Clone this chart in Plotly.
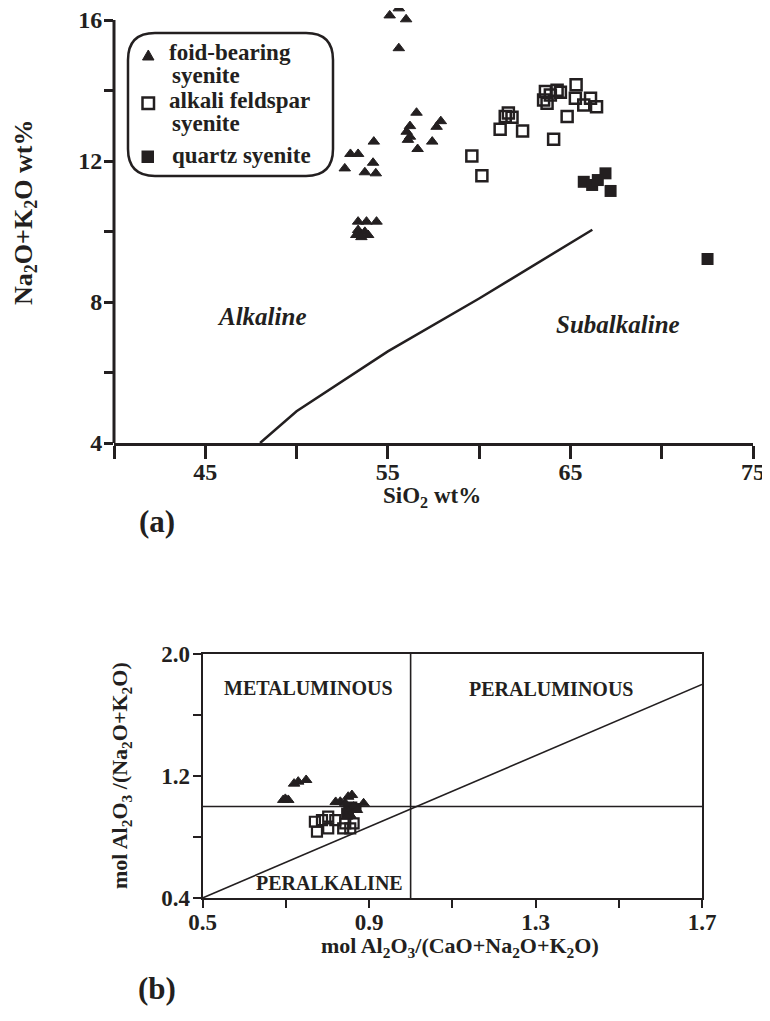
import plotly.graph_objects as go

# ---------------- DATA ----------------
# (a) TAS diagram: SiO2 wt% vs Na2O+K2O wt%
foid_sio2 = [55.6, 55.1, 56.0, 55.6,
             56.57, 56.21, 56.03, 56.21, 56.1, 56.63, 57.9, 57.67, 57.43,
             54.23, 52.95, 53.37, 54.19, 52.64, 53.74, 54.34,
             53.37, 53.83, 54.38, 53.37, 53.74, 53.46, 53.92, 53.27, 53.55]
foid_alk = [16.33, 16.13, 16.02, 15.2,
            13.37, 12.99, 12.83, 12.69, 12.6, 12.34, 13.13, 12.97, 12.55,
            12.55, 12.2, 12.2, 11.95, 11.79, 11.68, 11.65,
            10.28, 10.28, 10.28, 10.04, 9.99, 9.9, 9.9, 9.9, 9.84]

afs_sio2 = [65.31, 63.63, 64.27, 64.45, 63.53, 63.72, 65.27, 66.1, 65.73, 66.43,
            64.82, 64.08, 61.43, 61.8, 61.15, 62.38, 59.6, 60.15, 61.6, 63.9]
afs_alk = [14.16, 13.97, 14.01, 13.95, 13.73, 13.64, 13.78, 13.78, 13.59, 13.54,
           13.26, 12.62, 13.26, 13.24, 12.9, 12.85, 12.14, 11.58, 13.36, 13.87]

qs_sio2 = [66.92, 65.73, 66.19, 67.2, 66.5, 72.51]
qs_alk = [11.65, 11.41, 11.32, 11.15, 11.46, 9.22]

# Alkaline / subalkaline dividing line
div_sio2 = [48.0, 50.0, 55.0, 60.0, 66.2]
div_alk = [4.0, 4.9, 6.6, 8.1, 10.05]

# (b) A/CNK vs A/NK
foid_acnk = [0.730, 0.749, 0.720, 0.694, 0.706, 0.699, 0.831, 0.850, 0.859, 0.843,
             0.863, 0.887, 0.871, 0.850, 0.855, 0.847, 0.820]
foid_ank = [1.163, 1.174, 1.150, 1.043, 1.043, 1.050, 1.031, 1.064, 1.075, 1.021,
            0.999, 1.021, 0.977, 0.966, 0.944, 0.933, 1.030]

afs_acnk = [0.802, 0.787, 0.775, 0.802, 0.843, 0.863, 0.838, 0.819, 0.770, 0.855]
afs_ank = [0.933, 0.911, 0.835, 0.857, 0.890, 0.890, 0.857, 0.911, 0.900, 0.857]

qs_acnk = [0.850, 0.860, 0.845, 0.870]
qs_ank = [0.980, 1.000, 0.960, 0.990]

# Shand diagram boundaries
vline_x = [1.0, 1.0]
vline_y = [0.4, 2.0]
hline_x = [0.5, 1.7]
hline_y = [1.0, 1.0]
diag_x = [0.5, 1.7]
diag_y = [0.4, 1.8]

legend_labels = [["foid-bearing", "syenite"], ["alkali feldspar", "syenite"], ["quartz syenite"]]

# ---------------- STYLE ----------------
# the page body has an 8 px default margin, so the figure starts at (8, 8)
OFF = 8
W, H = 770 - OFF, 1021 - OFF
INK = "#231f20"
FONT = "Liberation Serif"


def PX(x):
    return (x - OFF) / W


def PY(y):
    return 1 - (y - OFF) / H


fig = go.Figure()

tri = dict(symbol="triangle-up", size=10, color=INK, line=dict(color=INK, width=1))
osq = dict(symbol="square", size=11, color="rgba(0,0,0,0)", line=dict(color=INK, width=2.5))
fsq = dict(symbol="square", size=12, color=INK, line=dict(color=INK, width=0))

# top chart
fig.add_trace(go.Scatter(x=div_sio2, y=div_alk, mode="lines", line=dict(color=INK, width=2.5),
                         xaxis="x", yaxis="y", showlegend=False, hoverinfo="skip"))
fig.add_trace(go.Scatter(x=foid_sio2, y=foid_alk, mode="markers", marker=tri, cliponaxis=False,
                         xaxis="x", yaxis="y", showlegend=False))
fig.add_trace(go.Scatter(x=afs_sio2, y=afs_alk, mode="markers", marker=osq, cliponaxis=False,
                         xaxis="x", yaxis="y", showlegend=False))
fig.add_trace(go.Scatter(x=qs_sio2, y=qs_alk, mode="markers", marker=fsq, cliponaxis=False,
                         xaxis="x", yaxis="y", showlegend=False))

# bottom chart
for xs, ys in [(vline_x, vline_y), (hline_x, hline_y), (diag_x, diag_y)]:
    fig.add_trace(go.Scatter(x=xs, y=ys, mode="lines", line=dict(color=INK, width=1.6),
                             xaxis="x2", yaxis="y2", showlegend=False, hoverinfo="skip"))
fig.add_trace(go.Scatter(x=afs_acnk, y=afs_ank, mode="markers",
                         marker=dict(osq, size=10, line=dict(color=INK, width=2.2)),
                         xaxis="x2", yaxis="y2", showlegend=False))
fig.add_trace(go.Scatter(x=qs_acnk, y=qs_ank, mode="markers", marker=dict(fsq, size=10),
                         xaxis="x2", yaxis="y2", showlegend=False))
fig.add_trace(go.Scatter(x=foid_acnk, y=foid_ank, mode="markers", marker=tri,
                         xaxis="x2", yaxis="y2", showlegend=False))

tickfont = dict(family=FONT, size=24, color=INK)
bold = dict(tickprefix="<b>", ticksuffix="</b>", ticklabeloverflow="allow")

# top y-axis: range reaches the top of the figure so the highest points are shown;
# the visible axis line stops at 16 (drawn as a shape below)
px_per_unit = (443 - 20) / 12.0
TOP_Y0 = 4
TOP_Y1 = 4 + (443 - OFF) / px_per_unit

fig.update_layout(
    width=W, height=H, autosize=False,
    margin=dict(l=0, r=0, t=0, b=0, autoexpand=False),
    paper_bgcolor="white", plot_bgcolor="white",
    font=dict(family=FONT, color=INK),
    xaxis=dict(domain=[PX(114), PX(753)], range=[40, 75], anchor="y", automargin=False,
               showline=True, linewidth=3, linecolor=INK, showgrid=False, zeroline=False,
               ticks="outside", ticklen=13, tickwidth=3, tickcolor=INK, ticklabelstandoff=-8,
               tick0=45, dtick=10, tickfont=tickfont, **bold,
               minor=dict(tick0=40, dtick=5, ticks="outside", ticklen=13, tickwidth=3, tickcolor=INK)),
    yaxis=dict(domain=[PY(443), 1.0], range=[TOP_Y0, TOP_Y1], anchor="x", automargin=False,
               showline=False, showgrid=False, zeroline=False,
               ticks="outside", ticklen=9, tickwidth=3, tickcolor=INK, ticklabelstandoff=-3,
               tick0=4, dtick=4, tickfont=tickfont, **bold,
               minor=dict(tick0=4, dtick=2, ticks="outside", ticklen=9, tickwidth=3, tickcolor=INK)),
    xaxis2=dict(domain=[PX(202.5), PX(702)], range=[0.5, 1.7], anchor="y2", automargin=False,
                showline=True, mirror=True, linewidth=2, linecolor=INK, showgrid=False, zeroline=False,
                ticks="outside", ticklen=8, tickwidth=2, tickcolor=INK, ticklabelstandoff=-6,
                tick0=0.5, dtick=0.4, tickformat=".1f", tickfont=dict(tickfont, size=23), **bold,
                minor=dict(tick0=0.5, dtick=0.2, ticks="outside", ticklen=8, tickwidth=2, tickcolor=INK)),
    yaxis2=dict(domain=[PY(898), PY(654)], range=[0.4, 2.0], anchor="x2", automargin=False,
                showline=True, mirror=True, linewidth=2, linecolor=INK, showgrid=False, zeroline=False,
                ticks="outside", ticklen=8, tickwidth=2, tickcolor=INK, ticklabelstandoff=-2,
                tick0=0.4, dtick=0.8, tickformat=".1f", tickfont=dict(tickfont, size=23), **bold,
                minor=dict(tick0=0.4, dtick=0.4, ticks="outside", ticklen=8, tickwidth=2, tickcolor=INK)),
)

ann = []


def text(x, y, s, size, xref="paper", yref="paper", angle=0, xanchor="center"):
    ann.append(dict(x=x, y=y, xref=xref, yref=yref, text=s, showarrow=False, textangle=angle,
                    xanchor=xanchor, yanchor="middle",
                    font=dict(family=FONT, size=size, color=INK)))


# axis titles
text(PX(25), PY(213), "<b>Na<sub>2</sub>O+K<sub>2</sub>O wt%</b>", 26, angle=-90)
text(PX(432), PY(497), "<b>SiO<sub>2</sub> wt%</b>", 23)
text(PX(121), PY(776), "<b>mol Al<sub>2</sub>O<sub>3</sub> /(Na<sub>2</sub>O+K<sub>2</sub>O)</b>", 22, angle=-90)
text(PX(460), PY(947), "<b>mol Al<sub>2</sub>O<sub>3</sub>/(CaO+Na<sub>2</sub>O+K<sub>2</sub>O)</b>", 22)

# panel letters
text(PX(157), PY(521), "<b>(a)</b>", 31)
text(PX(157), PY(988), "<b>(b)</b>", 31)

# field labels
text(48.1, 7.6, "<b><i>Alkaline</i></b>", 25, xref="x", yref="y")
text(67.6, 7.35, "<b><i>Subalkaline</i></b>", 25, xref="x", yref="y")
text(0.754, 1.777, "<b>METALUMINOUS</b>", 20, xref="x2", yref="y2")
text(1.338, 1.77, "<b>PERALUMINOUS</b>", 20, xref="x2", yref="y2")
text(0.804, 0.498, "<b>PERALKALINE</b>", 20, xref="x2", yref="y2")

# legend text
leg_rows = [(167, 53, legend_labels[0][0]), (170, 75, legend_labels[0][1]),
            (167, 101, legend_labels[1][0]), (170, 123, legend_labels[1][1]),
            (170, 155, legend_labels[2][0])]
for lx, ly, s in leg_rows:
    text(PX(lx), PY(ly), "<b>" + s + "</b>", 23, xanchor="left")

fig.update_layout(annotations=ann)


# legend box + symbols
def rounded_rect(x0, y0, x1, y1, r):
    pts = [("M", x0 + r, y0), ("L", x1 - r, y0), ("Q", x1, y0, x1, y0 + r), ("L", x1, y1 - r),
           ("Q", x1, y1, x1 - r, y1), ("L", x0 + r, y1), ("Q", x0, y1, x0, y1 - r),
           ("L", x0, y0 + r), ("Q", x0, y0, x0 + r, y0)]
    out = ""
    for p in pts:
        cmd = p[0]
        coords = p[1:]
        segs = []
        for i in range(0, len(coords), 2):
            segs.append(f"{PX(coords[i]):.5f},{PY(coords[i + 1]):.5f}")
        out += cmd + " ".join(segs) + " "
    return out + "Z"


shapes = [
    # visible y-axis line of panel (a), from 4 to 16
    dict(type="line", xref="x domain", yref="y", x0=0, x1=0, y0=4, y1=16,
         line=dict(color=INK, width=3), layer="above"),
    dict(type="path", xref="paper", yref="paper", path=rounded_rect(128, 33, 333, 176, 27),
         line=dict(color=INK, width=2.5), fillcolor="rgba(0,0,0,0)"),
    dict(type="path", xref="paper", yref="paper",
         path=f"M{PX(142.5):.5f},{PY(60):.5f} L{PX(154):.5f},{PY(60):.5f} L{PX(148.3):.5f},{PY(50):.5f} Z",
         line=dict(color=INK, width=1), fillcolor=INK),
    dict(type="rect", xref="paper", yref="paper", x0=PX(142.5), x1=PX(154), y0=PY(109), y1=PY(97.5),
         line=dict(color=INK, width=2.5), fillcolor="rgba(0,0,0,0)"),
    dict(type="rect", xref="paper", yref="paper", x0=PX(141.5), x1=PX(154), y0=PY(163), y1=PY(150.5),
         line=dict(color=INK, width=0), fillcolor=INK),
]
fig.update_layout(shapes=shapes)

fig.write_html("out.html")
